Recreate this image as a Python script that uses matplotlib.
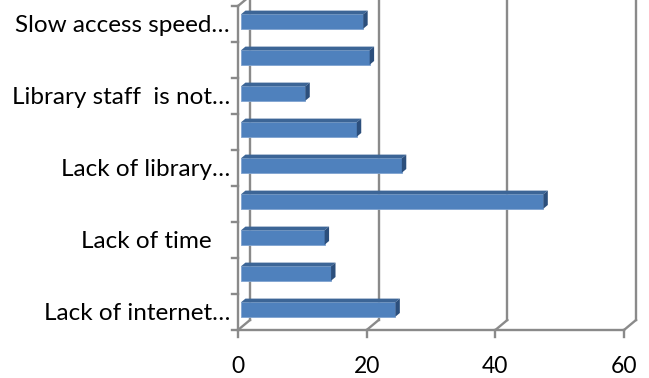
import matplotlib
matplotlib.use("Agg")
import matplotlib.pyplot as plt
from matplotlib.patches import Polygon

# categories from bottom to top; the blank ones are not labelled on the axis
categories = ["Lack of internet…", "", "Lack of time   ", "", "Lack of library…",
              "", "Library staff  is not…", "", "Slow access speed…"]
values = [24, 14, 13, 47, 25, 18, 10, 20, 19]
x_ticks = [0, 20, 40, 60]

W, H = 649, 378
fig = plt.figure(figsize=(W / 100, H / 100), dpi=100)
ax = fig.add_axes([0, 0, 1, 1])
ax.set_axis_off()

# pixel -> data scale (front plane: 0 at x=238px, 60 at x=624px, floor at y=330px)
xs = 60 / 386
ax.set_xlim(-238 * xs, (W - 238) * xs)
ax.set_ylim(-0.5 - 48 / 36, -0.5 + 330 / 36)

DX, DY = 12 * xs, 10 / 36          # depth of the 3-D box
grid_c = "#8a8a8a"
lw = 1.7
top_y = 8.5
n = len(categories)
font = dict(family="Lato", color="black", fontsize=17.5)

# back wall gridlines + their floor diagonals
for t in x_ticks:
    ax.plot([t + DX, t + DX], [-0.5 + DY, top_y + 1], color=grid_c, lw=lw, zorder=1)
    ax.plot([t, t + DX], [-0.5, -0.5 + DY], color=grid_c, lw=lw, zorder=1)
    ax.plot([t, t], [-0.5, -0.5 - 7 / 36], color=grid_c, lw=lw, zorder=1)
    ax.text(t, -0.5 - 43 / 36, str(t), ha="center", va="baseline",
            **{**font, "fontsize": 16.5})

# floor front edge and left wall front edge
ax.plot([0, x_ticks[-1]], [-0.5, -0.5], color=grid_c, lw=lw, zorder=1)
ax.plot([0, 0], [-0.5, top_y], color=grid_c, lw=lw, zorder=1)
ax.plot([0, DX], [top_y, top_y + DY], color=grid_c, lw=lw, zorder=1)
for k in range(n + 1):
    ax.plot([-6 * xs, 0], [k - 0.5, k - 0.5], color=grid_c, lw=lw, zorder=1)

# bars: front face via barh, top and side faces from the same values
f0, bd, bh = 0.25, 0.37, 0.40
front_c, top_c, side_c = "#4f81bd", "#3c6596", "#2c4f7c"
ys = [k + f0 * DY for k in range(n)]
x0 = f0 * DX
ax.barh(ys, values, left=x0, height=bh, color=front_c,
        edgecolor="#7fa3d0", linewidth=0.6, zorder=3)
for y, v in zip(ys, values):
    yt = y + bh / 2
    yb = y - bh / 2
    xe = x0 + v
    ox, oy = bd * DX, bd * DY
    ax.add_patch(Polygon([(x0, yt), (xe, yt), (xe + ox, yt + oy), (x0 + ox, yt + oy)],
                         closed=True, facecolor=top_c, edgecolor="none", zorder=3))
    ax.add_patch(Polygon([(xe, yb), (xe, yt), (xe + ox, yt + oy), (xe + ox, yb + oy)],
                         closed=True, facecolor=side_c, edgecolor="none", zorder=3))

# category labels
for k, lab in enumerate(categories):
    if lab:
        ax.text(-8 * xs, k - 2 / 36, lab, ha="right", va="center", **font)

fig.savefig("out.png", dpi=100)
